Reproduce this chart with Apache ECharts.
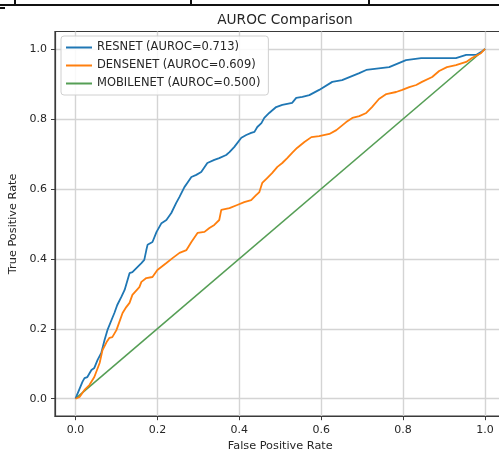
<!DOCTYPE html>
<html>
<head>
<meta charset="utf-8">
<script src="https://cdn.jsdelivr.net/npm/echarts@6/dist/echarts.min.js"></script>
<style>
html,body{margin:0;padding:0;background:#fff;}
#chart{width:499px;height:454px;}
</style>
</head>
<body>
<div id="chart"></div>
<script>
const titleText = 'AUROC Comparison';
const xName = 'False Positive Rate';
const yName = 'True Positive Rate';
const tickValues = [0, 0.2, 0.4, 0.6, 0.8, 1.0];
const seriesNames = ['RESNET (AUROC=0.713)', 'DENSENET (AUROC=0.609)', 'MOBILENET (AUROC=0.500)'];

const resnetFPR = [0,0.017,0.022,0.029,0.039,0.046,0.054,0.063,0.071,0.078,0.088,0.095,0.102,0.112,0.120,0.132,0.139,0.161,0.168,0.173,0.176,0.188,0.198,0.210,0.222,0.234,0.246,0.254,0.266,0.273,0.283,0.295,0.307,0.322,0.339,0.351,0.368,0.376,0.388,0.405,0.417,0.429,0.437,0.444,0.454,0.461,0.473,0.490,0.505,0.529,0.539,0.554,0.571,0.595,0.627,0.651,0.693,0.710,0.766,0.807,0.844,0.929,0.954,0.978,0.990,1.0];
const resnetTPR = [0,0.048,0.059,0.062,0.082,0.088,0.111,0.131,0.168,0.196,0.225,0.245,0.268,0.291,0.311,0.359,0.362,0.388,0.397,0.425,0.440,0.448,0.477,0.502,0.511,0.531,0.560,0.577,0.605,0.617,0.634,0.640,0.648,0.674,0.683,0.688,0.697,0.705,0.720,0.746,0.754,0.760,0.763,0.777,0.788,0.803,0.817,0.834,0.840,0.846,0.860,0.863,0.868,0.883,0.906,0.911,0.931,0.940,0.948,0.968,0.974,0.974,0.983,0.983,0.991,1.0];

const densenetFPR = [0,0.010,0.022,0.034,0.046,0.059,0.066,0.076,0.083,0.090,0.100,0.107,0.115,0.124,0.132,0.139,0.156,0.161,0.173,0.188,0.200,0.222,0.237,0.254,0.271,0.283,0.298,0.315,0.327,0.339,0.351,0.356,0.376,0.395,0.412,0.429,0.441,0.449,0.456,0.468,0.480,0.493,0.505,0.517,0.529,0.541,0.559,0.576,0.595,0.620,0.637,0.661,0.676,0.693,0.710,0.724,0.741,0.759,0.783,0.798,0.815,0.832,0.846,0.871,0.888,0.907,0.929,0.954,0.968,0.990,1.0];
const densenetTPR = [0,0.005,0.025,0.039,0.062,0.102,0.139,0.162,0.174,0.176,0.196,0.219,0.245,0.262,0.274,0.297,0.319,0.334,0.345,0.348,0.368,0.388,0.402,0.417,0.425,0.448,0.474,0.477,0.488,0.497,0.511,0.540,0.545,0.554,0.562,0.568,0.582,0.591,0.617,0.631,0.645,0.663,0.674,0.688,0.703,0.717,0.734,0.748,0.751,0.757,0.768,0.791,0.803,0.808,0.817,0.834,0.857,0.871,0.877,0.883,0.891,0.897,0.906,0.920,0.937,0.948,0.954,0.963,0.974,0.988,1.0];

const mobilenetFPR = [0, 1];
const mobilenetTPR = [0, 1];

const zip = (a, b) => a.map((v, i) => [v, b[i]]);
const FONT = 'DejaVu Sans';
const TXT = '#262626';

const chart = echarts.init(document.getElementById('chart'), null, {renderer: 'canvas'});

function axisCommon(name, isX) {
  return {
    type: 'value',
    min: -0.05,
    max: 1.05,
    name: name,
    nameLocation: 'middle',
    nameGap: isX ? 23 : 31,
    nameTextStyle: {fontFamily: FONT, fontSize: 11.3, color: TXT},
    axisLine: {show: true, onZero: false, lineStyle: {color: '#3a3a3a', width: 1.2}},
    axisTick: {show: true, customValues: tickValues, length: 4, inside: false, lineStyle: {color: '#3a3a3a', width: 1}},
    axisLabel: {show: true, customValues: tickValues, margin: 8, fontFamily: FONT, fontSize: 11, color: TXT,
      formatter: v => v.toFixed(1)},
    splitLine: {show: true, lineStyle: {color: '#d4d4d4', width: 1.4}}
  };
}

const option = {
  backgroundColor: '#ffffff',
  animation: false,
  title: {
    text: titleText,
    left: 280,
    textAlign: 'center',
    top: 8,
    textStyle: {fontFamily: FONT, fontSize: 13.7, fontWeight: 'normal', color: TXT}
  },
  grid: {
    left: 55, top: 31.5, width: 450.5, height: 384.7,
    containLabel: false,
    outerBoundsMode: 'none',
    show: true, borderColor: '#3a3a3a', borderWidth: 1.2, backgroundColor: 'transparent'
  },
  legend: {
    orient: 'vertical',
    left: 61, top: 36,
    padding: [5, 8, 5, 5],
    itemWidth: 26, itemHeight: 2,
    itemGap: 5,
    icon: 'rect',
    backgroundColor: 'rgba(255,255,255,0.85)',
    borderColor: '#d0d0d0', borderWidth: 1, borderRadius: 3,
    textStyle: {fontFamily: FONT, fontSize: 11.5, color: TXT, lineHeight: 13},
    data: seriesNames
  },
  xAxis: axisCommon(xName, true),
  yAxis: axisCommon(yName, false),
  series: [
    {name: seriesNames[0], type: 'line', data: zip(resnetFPR, resnetTPR), showSymbol: false, symbol: 'none',
      lineStyle: {color: '#1f77b4', width: 1.8}, itemStyle: {color: '#1f77b4'}, z: 3},
    {name: seriesNames[1], type: 'line', data: zip(densenetFPR, densenetTPR), showSymbol: false, symbol: 'none',
      lineStyle: {color: '#ff7f0e', width: 1.8}, itemStyle: {color: '#ff7f0e'}, z: 3},
    {name: seriesNames[2], type: 'line', data: zip(mobilenetFPR, mobilenetTPR), showSymbol: false, symbol: 'none',
      lineStyle: {color: '#559e55', width: 1.6}, itemStyle: {color: '#559e55'}, z: 2}
  ],
  graphic: [
    {type: 'line', shape: {x1: 0, y1: 5, x2: 499, y2: 5}, style: {stroke: '#111', lineWidth: 2}},
    {type: 'line', shape: {x1: 15, y1: 0, x2: 15, y2: 5}, style: {stroke: '#111', lineWidth: 2}},
    {type: 'line', shape: {x1: 191, y1: 0, x2: 191, y2: 5}, style: {stroke: '#111', lineWidth: 2}},
    {type: 'line', shape: {x1: 369, y1: 0, x2: 369, y2: 5}, style: {stroke: '#111', lineWidth: 2}},
    {type: 'line', shape: {x1: 0, y1: 8, x2: 5, y2: 8}, style: {stroke: '#111', lineWidth: 2}}
  ]
};
chart.setOption(option);
</script>
</body>
</html>
